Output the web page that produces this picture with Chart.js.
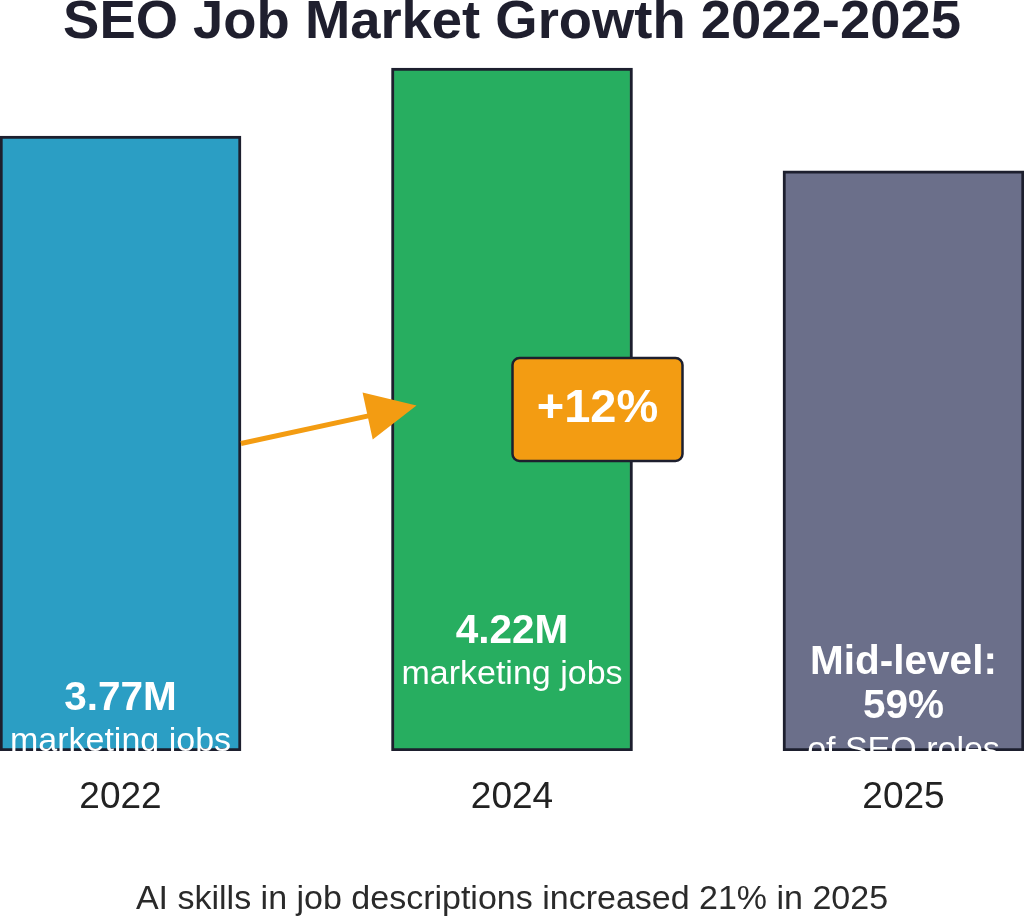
<!DOCTYPE html>
<html><head><meta charset="utf-8">
<script src="https://cdn.jsdelivr.net/npm/chart.js@4.4.1/dist/chart.umd.min.js"></script>
<style>html,body{margin:0;padding:0;background:#fff}#wrap{width:1024px;height:917px;position:relative}</style>
</head><body><div id="wrap"><canvas id="c"></canvas></div>
<script>
const categories = ['2022', '2024', '2025'];
const jobValues = [3.77, 4.22, 3.54];
const barColors = ['#2b9ec4', '#27ae60', '#6b6f8a'];
const barLabels = [['3.77M', 'marketing jobs'], ['4.22M', 'marketing jobs'], ['Mid-level:', '59%', 'of SEO roles']];
const barLabelBold = [[true, false], [true, false], [true, true, false]];
const growthLabel = '+12%';
const titleText = 'SEO Job Market Growth 2022-2025';
const footText = 'AI skills in job descriptions increased 21% in 2025';

const FONT = "'Liberation Sans', Arial, sans-serif";
const DARK = '#1d1f2e';
const ORANGE = '#f39c12';
const Y_MIN = -0.30;

const annot = {
  id: 'annot',
  afterDatasetsDraw(chart) {
    const ctx = chart.ctx, ca = chart.chartArea;
    const bars = chart.getDatasetMeta(0).data;
    const cy = (ca.top + ca.bottom) / 2;
    // labels inside bars, clipped to the plot area
    ctx.save();
    ctx.beginPath();
    ctx.rect(ca.left, ca.top, ca.right - ca.left, ca.bottom - ca.top);
    ctx.clip();
    ctx.fillStyle = '#ffffff';
    ctx.textAlign = 'center';
    ctx.textBaseline = 'middle';
    const firstOffset = [563, 564, 492];
    const lineGap = [43, 43, 44];
    bars.forEach((b, i) => {
      barLabels[i].forEach((t, j) => {
        ctx.font = (barLabelBold[i][j] ? 'bold 40.5px ' : '34px ') + FONT;
        ctx.fillText(t, b.x, b.y + firstOffset[i] + j * lineGap[i]);
      });
    });
    ctx.restore();

    // arrow from first bar to second bar
    const b0 = bars[0], b1 = bars[1];
    const sx = b0.x + b0.width / 2, sy = cy + 38;
    const tx = b1.x - b1.width / 2 + 25, ty = cy;
    const ang = Math.atan2(ty - sy, tx - sx);
    const headLen = 50, headHalf = 24;
    const bx = tx - headLen * Math.cos(ang), by = ty - headLen * Math.sin(ang);
    ctx.save();
    ctx.strokeStyle = ORANGE;
    ctx.fillStyle = ORANGE;
    ctx.lineWidth = 5;
    ctx.beginPath();
    ctx.moveTo(sx, sy);
    ctx.lineTo(bx + 2 * Math.cos(ang), by + 2 * Math.sin(ang));
    ctx.stroke();
    ctx.beginPath();
    ctx.moveTo(tx, ty);
    ctx.lineTo(bx - headHalf * Math.sin(ang), by + headHalf * Math.cos(ang));
    ctx.lineTo(bx + headHalf * Math.sin(ang), by - headHalf * Math.cos(ang));
    ctx.closePath();
    ctx.fill();

    // growth badge
    const w = 170, h = 103, r = 7;
    const x0 = b1.x + 85.5 - w / 2, y0 = cy + 4 - h / 2;
    ctx.beginPath();
    ctx.roundRect(x0, y0, w, h, r);
    ctx.fillStyle = ORANGE;
    ctx.fill();
    ctx.lineWidth = 2.5;
    ctx.strokeStyle = DARK;
    ctx.stroke();
    ctx.fillStyle = '#ffffff';
    ctx.font = 'bold 47px ' + FONT;
    ctx.textAlign = 'center';
    ctx.textBaseline = 'middle';
    ctx.fillText(growthLabel, x0 + w / 2, y0 + h / 2);
    ctx.restore();
  }
};

new Chart(document.getElementById('c'), {
  type: 'bar',
  data: {
    datasets: [{
      data: jobValues.map((v, i) => ({ x: i, y: v })),
      base: Y_MIN,
      backgroundColor: barColors,
      borderColor: DARK,
      borderWidth: 3,
      borderSkipped: false,
      barThickness: 241
    }]
  },
  options: {
    responsive: true,
    maintainAspectRatio: false,
    animation: false,
    layout: { padding: 0 },
    plugins: {
      legend: { display: false },
      tooltip: { enabled: false },
      title: {
        display: true, text: titleText, color: '#1f1f2e',
        font: { family: FONT, size: 54.4, weight: 'bold', lineHeight: 0.8 },
        padding: { top: 1.24, bottom: 15.24 }
      },
      subtitle: {
        display: true, position: 'bottom', text: footText, color: '#2a2a2a',
        font: { family: FONT, size: 34, lineHeight: 0.8 },
        padding: { top: 34.9, bottom: 3.9 }
      }
    },
    scales: {
      x: {
        type: 'linear', min: -0.3078, max: 2.3078, offset: false,
        grid: { display: false, drawTicks: false },
        border: { display: false },
        afterBuildTicks(axis) { axis.ticks = categories.map((c, i) => ({ value: i })); },
        afterFit(axis) { axis.height = 100; },
        ticks: {
          callback: (v) => categories[v] !== undefined ? categories[v] : '',
          color: '#222222', font: { family: FONT, size: 37 }, padding: 25,
          maxRotation: 0, autoSkip: false
        }
      },
      y: { display: false, min: Y_MIN, max: 4.273 }
    }
  },
  plugins: [annot]
});
</script></body></html>
